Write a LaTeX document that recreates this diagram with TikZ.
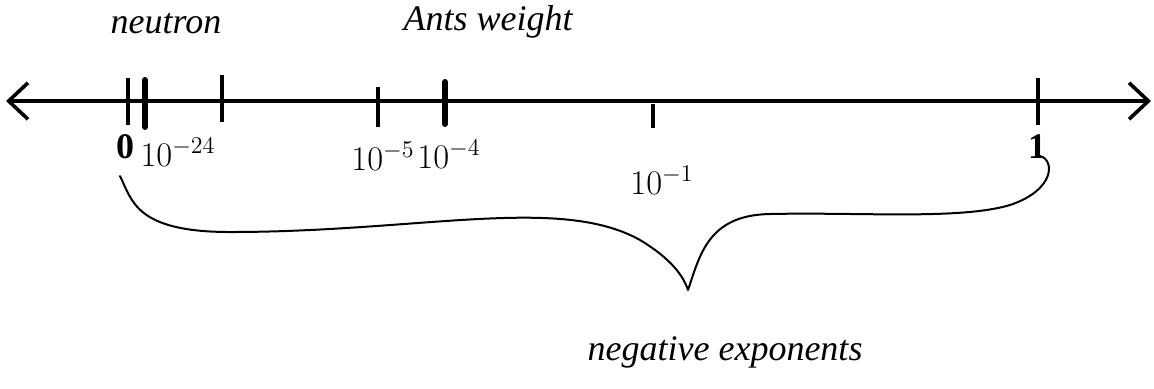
\documentclass[tikz,border=0pt]{standalone}
\usepackage{fontspec}
\setmainfont{Liberation Serif}
\usepackage{tikz}
\usetikzlibrary{
  arrows.meta,
  positioning
}
\tikzset{
  axisline/.style={{Straight Barb[length=3.4mm,width=6.4mm,line width=1.8pt]}-{Straight Barb[length=3.4mm,width=6.4mm,line width=1.8pt]},line width=2pt},
  tickmark/.style={line width=2pt},
  heavytick/.style={line width=3pt,line cap=round},
  endlabel/.style={font=\fontsize{18}{20}\selectfont\bfseries,inner sep=0pt},
  powerlabel/.style={font=\fontsize{17}{19}\selectfont,inner sep=0pt},
  notelabel/.style={font=\fontsize{18}{20}\selectfont\itshape,inner sep=0pt},
  bracecurve/.style={line width=1pt,line cap=round,line join=round}
}

\begin{document}
\begin{tikzpicture}[x=0.5pt,y=-0.5pt]
\useasboundingbox (0,0) rectangle (1154,388);
% number line
\coordinate (lend) at (6,101);
\coordinate (rend) at (1151,101);
\draw[axisline] (lend) -- (rend);
\foreach \tx/\ta/\tb in {128/78/125, 222/75/122, 378/87/127, 653/104/128, 1038/78/125}
  \draw[tickmark] (\tx,\ta) -- (\tx,\tb);
\foreach \tx/\ta/\tb in {145/80/127, 445/82/124}
  \draw[heavytick] (\tx,\ta) -- (\tx,\tb);
% labels on the line
\node[endlabel] (zero) at (125,147) {0};
\node[endlabel] (one) at (1037,147) {1};
\node[powerlabel] (p24) at (178,152) {$10^{-24}$};
\node[powerlabel] (p5) at (383,156) {$10^{-5}$};
\node[powerlabel] (p4) at (449,154) {$10^{-4}$};
\node[powerlabel] (p1) at (662,180) {$10^{-1}$};
\node[notelabel] (neutron) at (166,24) {neutron};
\node[notelabel] (ants) at (488,22) {Ants weight};
% brace under the line
\coordinate (bl) at (120,176);
\coordinate (tip) at (688,290);
\coordinate (br) at (1040,156);
\draw[bracecurve] (bl) .. controls (132,200) and (135,232) .. (230,232)
  .. controls (420,232) and (560,195) .. (640,240)
  .. controls (670,258) and (683,275) .. (tip)
  .. controls (700,255) and (708,215) .. (770,214)
  .. controls (860,212) and (960,220) .. (1010,205)
  .. controls (1055,190) and (1055,160) .. (br);
\node[notelabel] (negexp) at (725,352) {negative exponents};
\end{tikzpicture}
\end{document}
